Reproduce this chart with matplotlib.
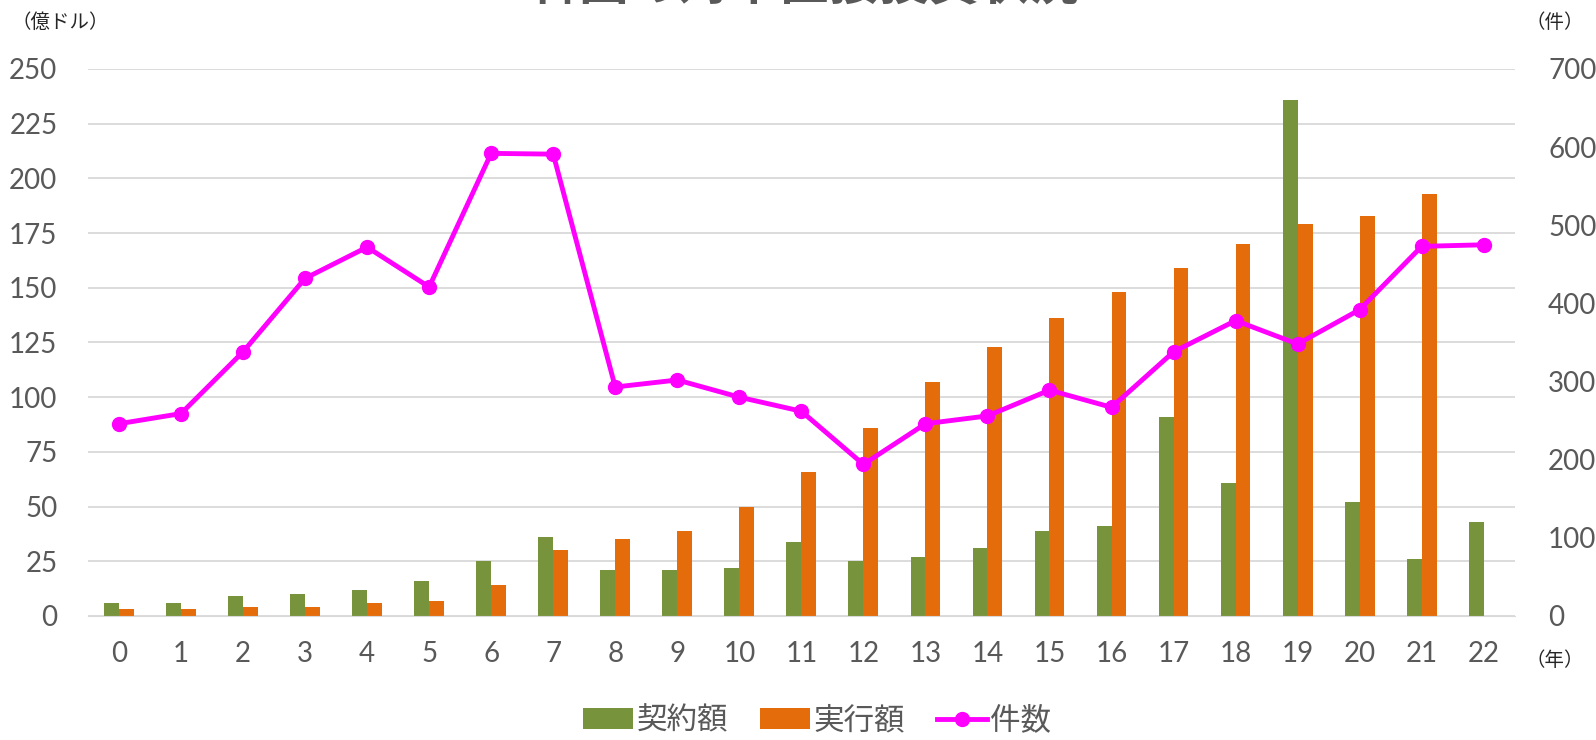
import matplotlib
matplotlib.use("Agg")
import matplotlib.pyplot as plt
import numpy as np

plt.rcParams['font.family'] = ['Noto Sans CJK JP', 'DejaVu Sans']

years = list(range(23))
contract = [6, 6, 9, 10, 12, 16, 25, 36, 21, 21, 22, 34, 25, 27, 31, 39, 41, 91, 61, 236, 52, 26, 43]
executed = [3, 3, 4, 4, 6, 7, 14, 30, 35, 39, 50, 66, 86, 107, 123, 136, 148, 159, 170, 179, 183, 193, np.nan]
cases = [246, 259, 338, 432, 472, 421, 592, 591, 293, 302, 280, 262, 194, 246, 256, 289, 267, 338, 378, 348, 392, 473, 475]

GREEN = "#77933C"
ORANGE = "#E46C0A"
PINK = "#FF00FF"
TXT = "#595959"

fig = plt.figure(figsize=(15.96, 7.40), dpi=100)
ax = fig.add_axes([0.0551, 0.1676, 0.894, 0.7392])
ax2 = ax.twinx()

x = np.arange(len(years))
w = 0.24
ax.bar(x - w / 2, contract, w, color=GREEN, label="契約額", zorder=2)
ax.bar(x + w / 2, executed, w, color=ORANGE, label="実行額", zorder=2)
ax2.plot(x, cases, color=PINK, lw=3.5, marker="o", ms=10, label="件数", zorder=3)

ax.set_xlim(-0.5, 22.5)
ax.set_ylim(0, 250)
ax.set_yticks(range(0, 251, 25))
ax2.set_ylim(0, 700)
ax2.set_yticks(range(0, 701, 100))
ax.set_xticks(x)
ax.set_xticklabels([str(y) for y in years])

ax.grid(axis="y", color="#D9D9D9", lw=1.3, zorder=0)
ax.set_axisbelow(True)
for a in (ax, ax2):
    for s in a.spines.values():
        s.set_visible(False)
    a.tick_params(length=0, labelsize=20, colors=TXT)
    for lab in a.get_xticklabels() + a.get_yticklabels():
        lab.set_family(["Lato", "DejaVu Sans"])
ax.spines["bottom"].set_visible(True)
ax.spines["bottom"].set_color("#D9D9D9")
ax.tick_params(axis="y", pad=22)
ax.tick_params(axis="x", pad=18)
ax2.tick_params(axis="y", pad=24)

# title is partly outside the canvas, as in the source image
fig.text(0.504, 1 - 11 / 740, "韓国の対中直接投資状況", ha="center", va="bottom",
         fontsize=36, fontweight="bold", color=TXT)
fig.text(0.038, 0.970, "（億ドル）", ha="center", va="center", fontsize=14, color="#262626")
fig.text(0.974, 0.970, "（件）", ha="center", va="center", fontsize=14, color="#262626")
fig.text(0.974, 0.108, "（年）", ha="center", va="center", fontsize=14, color="#262626")

h1, l1 = ax.get_legend_handles_labels()
h2, l2 = ax2.get_legend_handles_labels()
fig.legend(h1 + h2, l1 + l2, loc="center", bbox_to_anchor=(0.512, 0.026), ncol=3,
           frameon=False, fontsize=22, labelcolor=TXT, handlelength=1.65,
           handletextpad=0.1, columnspacing=1.05, borderpad=0.1)

fig.savefig("out.png", dpi=100)
